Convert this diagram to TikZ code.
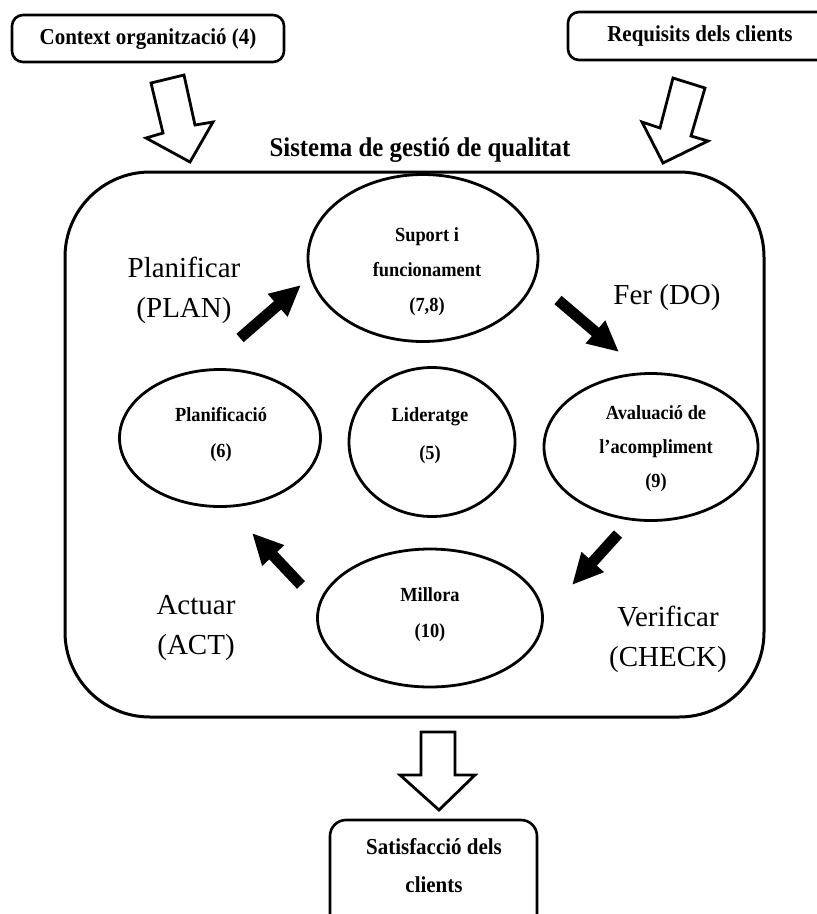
\documentclass[tikz,border=0pt]{standalone}
\usepackage{fontspec}
\setmainfont{Liberation Serif}
\newfontfamily\narrowserif[FakeStretch=0.92]{Liberation Serif}
\usetikzlibrary{arrows.meta,shapes.geometric}

\tikzset{
  frame/.style={draw, line width=3pt, rounded corners=#1},
  roundbox/.style={draw, line width=2.6pt, rounded corners=11pt},
  oval/.style={draw, ellipse, line width=2.8pt, inner sep=0pt},
  boxtext/.style={font=\narrowserif\fontsize{22.8}{38}\selectfont\bfseries, align=center, inner sep=0pt},
  ovaltext/.style={font=\narrowserif\fontsize{20}{35}\selectfont\bfseries, align=center, inner sep=0pt},
  phase/.style={font=\fontsize{29}{40}\selectfont, align=center, inner sep=0pt},
  hollow/.style={draw, line width=2.8pt, fill=white, line join=miter},
  cycle arrow/.style={line width=11pt, -{Triangle[length=31pt,width=28pt]}},
}

\begin{document}
\begin{tikzpicture}[x=1pt,y=-1pt]
  \useasboundingbox (0,0) rectangle (817,914);
  \clip (0,0) rectangle (817,914);

  % input boxes
  \draw[roundbox] (12,15) rectangle (284,62);
  \node[boxtext] (ctx) at (148,39) {Context organització (4)};
  \draw[roundbox] (568,12) rectangle (840,60);
  \node[boxtext] (req) at (700,36) {Requisits dels clients};

  % hollow input arrows
  \draw[hollow] (151,83) -- (184,75) -- (195,125) -- (213,122) -- (190,162)
                -- (146,138) -- (163,133) -- cycle;
  \draw[hollow] (673,78) -- (705,88) -- (691,136) -- (708,141) -- (663,163)
                -- (642,122) -- (660,128) -- cycle;

  % system title and frame
  \node[font=\narrowserif\fontsize{27}{30}\selectfont\bfseries, inner sep=0pt] (title) at (420,150)
    {Sistema de gestió de qualitat};
  \draw[frame=85pt] (65,172) rectangle (764,717);

  % process ellipses
  \node[oval, minimum width=230pt, minimum height=167pt] (sup) at (423,258) {};
  \node[ovaltext] (suptx) at (427,272) {Suport i\\funcionament\\(7,8)};

  \node[oval, minimum width=201pt, minimum height=137pt] (pla) at (220,438) {};
  \node[ovaltext, font=\narrowserif\fontsize{20}{36}\selectfont\bfseries] (platx) at (221,435) {Planificació\\(6)};

  \node[oval, minimum width=166pt, minimum height=149pt] (lid) at (432,442) {};
  \node[ovaltext, font=\narrowserif\fontsize{20}{38}\selectfont\bfseries] (lidtx) at (430,436) {Lideratge\\(5)};

  \node[oval, minimum width=214pt, minimum height=147pt] (ava) at (651,447) {};
  \node[ovaltext, font=\narrowserif\fontsize{20}{34}\selectfont\bfseries] (avatx) at (656,449) {Avaluació de\\l’acompliment\\(9)};

  \node[oval, minimum width=225pt, minimum height=138pt] (mil) at (430,618) {};
  \node[ovaltext, font=\narrowserif\fontsize{20}{36}\selectfont\bfseries] (miltx) at (430,615) {Millora\\(10)};

  % PDCA labels
  \node[phase] (plan) at (184,290) {Planificar\\(PLAN)};
  \node[phase] (do) at (667,298) {Fer (DO)};
  \node[phase] (act) at (196,628) {Actuar\\(ACT)};
  \node[phase] (check) at (668,639) {Verificar\\(CHECK)};

  % cycle arrows
  \coordinate (p1) at (240,338); \coordinate (p2) at (301,285);
  \coordinate (d1) at (558,300); \coordinate (d2) at (619,352);
  \coordinate (c1) at (618,534); \coordinate (c2) at (572,585);
  \coordinate (a1) at (301,585); \coordinate (a2) at (252,533);
  \draw[cycle arrow] (p1) -- (p2);
  \draw[cycle arrow] (d1) -- (d2);
  \draw[cycle arrow] (c1) -- (c2);
  \draw[cycle arrow] (a1) -- (a2);

  % output arrow and box
  \draw[hollow] (421,732) -- (455,732) -- (455,775) -- (475,775) -- (439,810)
                -- (400,775) -- (421,775) -- cycle;
  \draw[roundbox, rounded corners=16pt] (330,820) rectangle (537,940);
  \node[boxtext] (sat) at (434,866) {Satisfacció dels\\clients};
\end{tikzpicture}
\end{document}
